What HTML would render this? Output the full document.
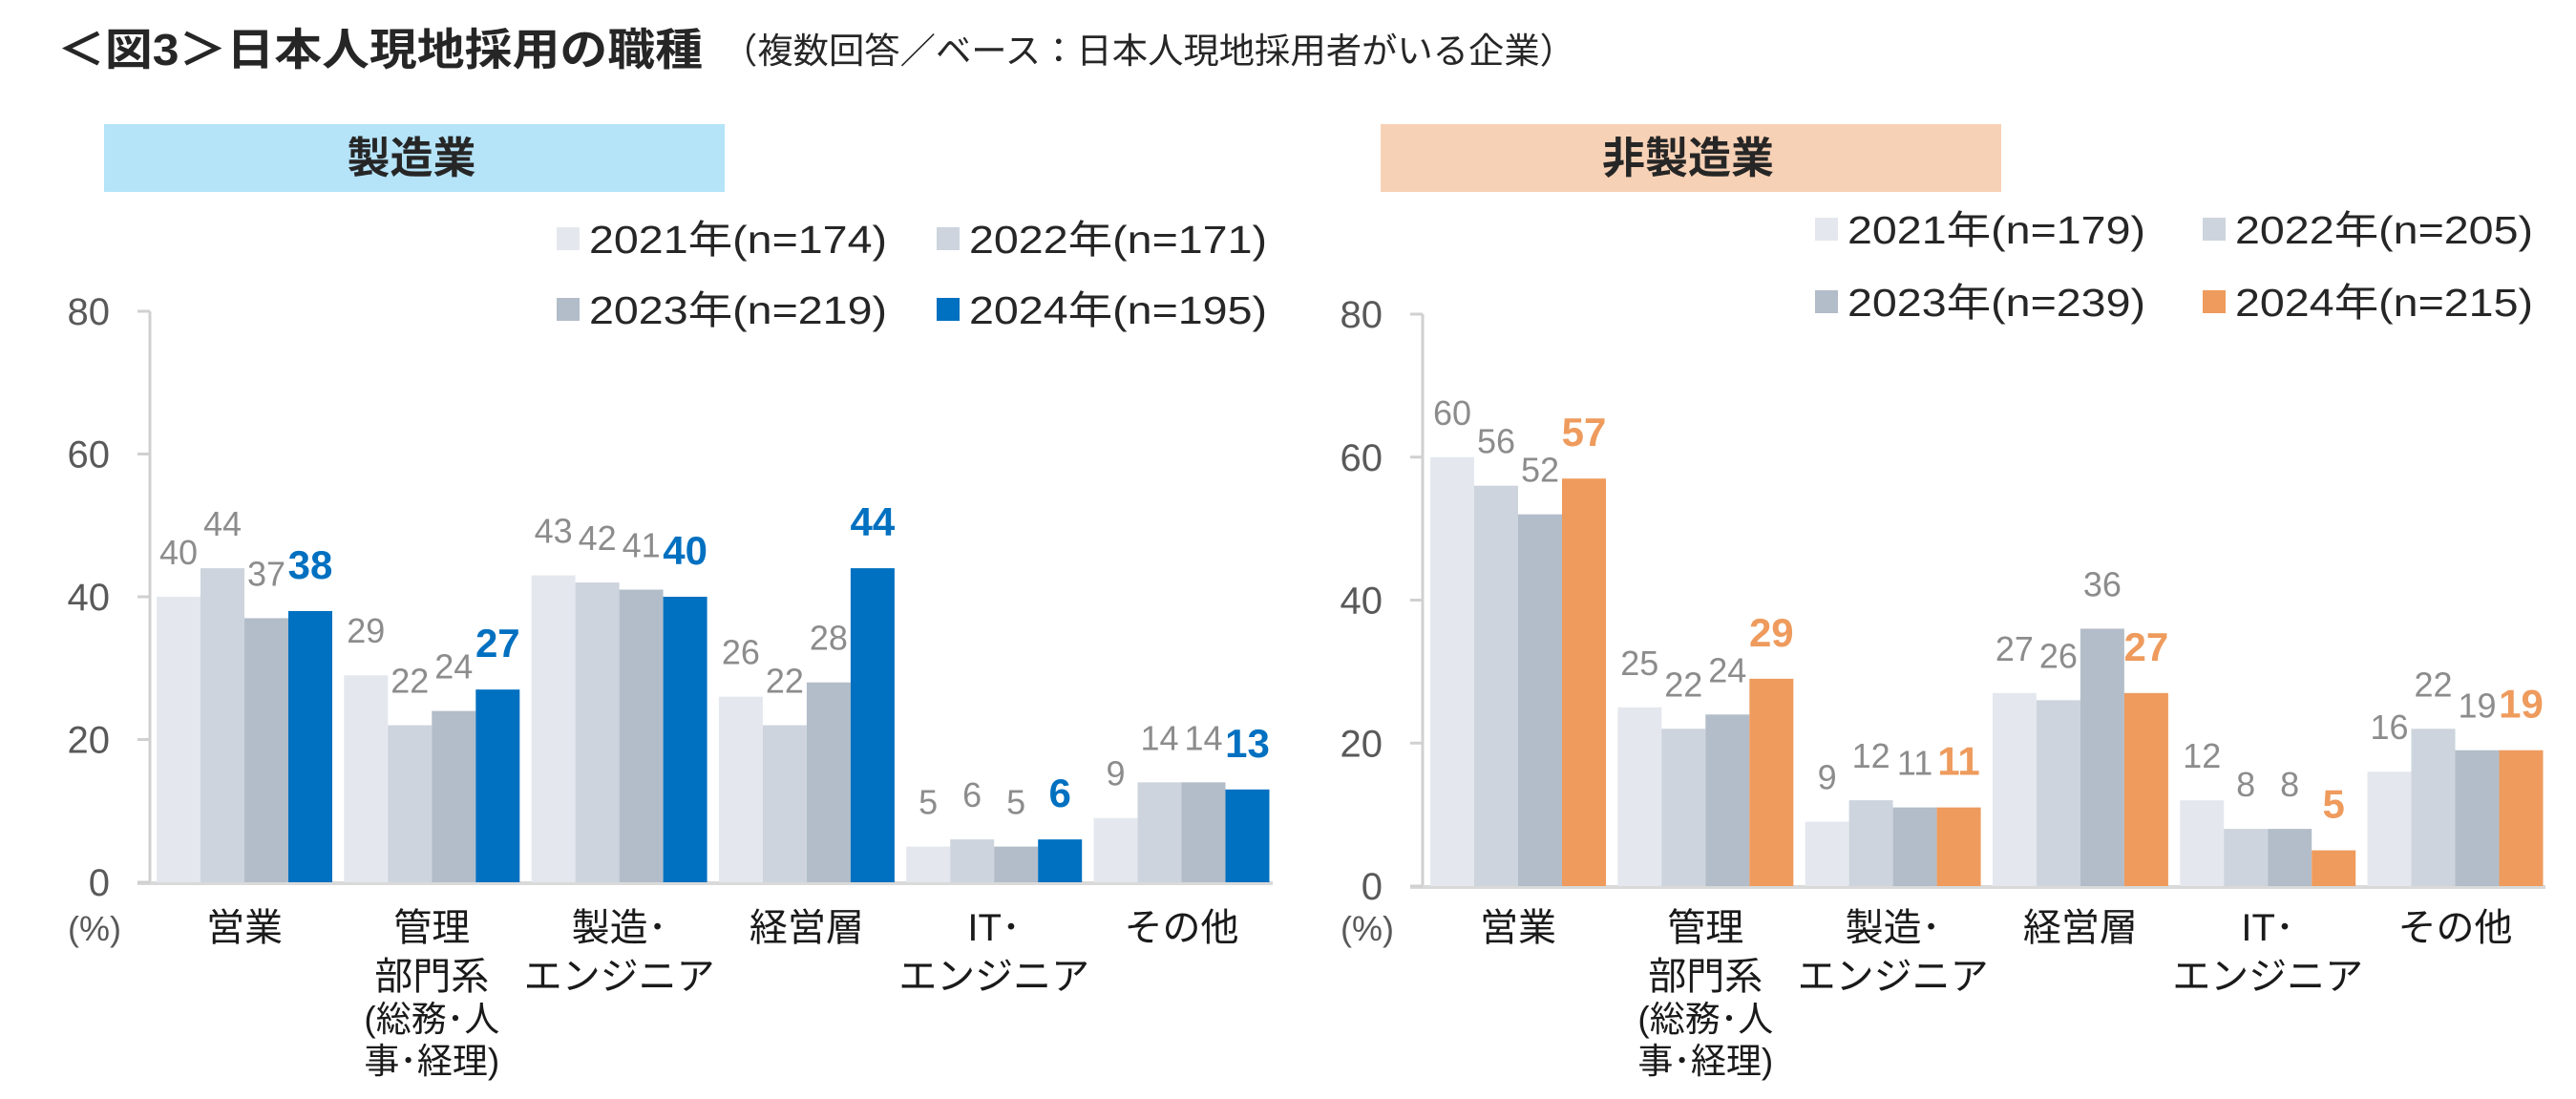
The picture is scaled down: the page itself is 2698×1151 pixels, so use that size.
<!DOCTYPE html>
<html><head><meta charset="utf-8"><style>
html,body{margin:0;padding:0;background:#fff;}
svg{display:block;}
text{font-family:"Liberation Sans","Noto Sans CJK JP",sans-serif;}
</style></head><body>
<svg id="root" width="2698" height="1151" viewBox="0 0 2698 1151" xmlns="http://www.w3.org/2000/svg">
<text x="60" y="68" font-size="46" font-weight="bold" fill="#262626" textLength="676" lengthAdjust="spacingAndGlyphs">＜図3＞日本人現地採用の職種</text>
<text x="756" y="66" font-size="37" fill="#262626" textLength="894" lengthAdjust="spacingAndGlyphs">（複数回答／ベース：日本人現地採用者がいる企業）</text>
<g id="charts"></g>
</svg>
<script>
const categories = ["営業", "管理|部門系|(総務･人|事･経理)", "製造･|エンジニア", "経営層", "IT･|エンジニア", "その他"];
const yTicks = [0, 20, 40, 60, 80];
const mfgYears = ["2021年(n=174)", "2022年(n=171)", "2023年(n=219)", "2024年(n=195)"];
const mfg2021 = [40, 29, 43, 26, 5, 9];
const mfg2022 = [44, 22, 42, 22, 6, 14];
const mfg2023 = [37, 24, 41, 28, 5, 14];
const mfg2024 = [38, 27, 40, 44, 6, 13];
const nonYears = ["2021年(n=179)", "2022年(n=205)", "2023年(n=239)", "2024年(n=215)"];
const non2021 = [60, 25, 9, 27, 12, 16];
const non2022 = [56, 22, 12, 26, 8, 22];
const non2023 = [52, 24, 11, 36, 8, 19];
const non2024 = [57, 29, 11, 27, 5, 19];

const NS = "http://www.w3.org/2000/svg";
const root = document.getElementById("charts");
function mk(tag, attrs, parent) {
  const e = document.createElementNS(NS, tag);
  for (const k in attrs) e.setAttribute(k, attrs[k]);
  (parent || root).appendChild(e);
  return e;
}

function drawChart(cfg) {
  const g = mk("g", {});
  
  
  const yMax = 80;
  const yScale = v => cfg.y0 - (v / yMax) * (cfg.y0 - cfg.y80);
  const barW = 46, pitch = 196.3;
  const xBar = (ci, si) => cfg.barStart + ci * pitch + si * barW;

  const hb = mk("rect", {x: cfg.hx, y: 130, width: cfg.hw, height: 71, fill: cfg.hcolor}, g);
  
  
  const ht = mk("text", {x: cfg.hx + cfg.hw / 2 - 3, y: 181, "font-size": 45, "font-weight": "bold", fill: "#262626", "text-anchor": "middle"}, g);
  ht.textContent = cfg.title;
  
  

  const ax = mk("line", {x1: cfg.axisX, y1: cfg.y80, x2: cfg.axisX, y2: cfg.y0, stroke: "#d0d0d0", "stroke-width": 3}, g);
  
  
  const bx = mk("line", {x1: cfg.axisX - 13, y1: cfg.y0 + 1, x2: cfg.axisEnd, y2: cfg.y0 + 1, stroke: "#d9d9d9", "stroke-width": 4}, g);
  
  
  yTicks.forEach(t => {
    const y = yScale(t);
    const tk = mk("line", {x1: cfg.axisX - 13, y1: y, x2: cfg.axisX, y2: y, stroke: "#d0d0d0", "stroke-width": 3}, g);
    
    
    const tl = mk("text", {x: cfg.axisX - 42, y: y + 14, "font-size": 40, fill: "#595959", "text-anchor": "end"}, g);
    tl.textContent = t;
    
    
  });
  const pc = mk("text", {x: cfg.axisX - 58, y: 985, "font-size": 36, fill: "#595959", "text-anchor": "middle"}, g);
  pc.textContent = "(%)";
  
  

  cfg.series.forEach((vals, si) => {
    vals.forEach((v, ci) => {
      const x = xBar(ci, si), y = yScale(v);
      const r = mk("rect", {x: x, y: y, width: barW, height: cfg.y0 - y, fill: cfg.colors[si]}, g);
      
      
      const last = si === 3;
      const lb = mk("text", {x: x + barW / 2, y: y - 34, "font-size": last ? 42 : 36, "font-weight": last ? "bold" : "normal", fill: last ? cfg.colors[3] : "#8c8c8c", "text-anchor": "middle"}, g);
      lb.textContent = v;
      
      
    });
  });

  categories.forEach((c, ci) => {
    const cx = xBar(ci, 0) + 2 * barW;
    c.split("|").forEach((line, li) => {
      const ys = [985, 1036, 1080, 1124];
      const t = mk("text", {x: cx, y: ys[li], "font-size": li >= 2 ? 37 : 40, fill: "#1a1a1a", "text-anchor": "middle"}, g);
      t.textContent = line;
      
      
    });
  });

  cfg.years.forEach((yr, si) => {
    const col = si % 2, row = Math.floor(si / 2);
    const sx = cfg.legX[col], cy = cfg.legY[row];
    const sq = mk("rect", {x: sx, y: cy - 12, width: 24, height: 24, fill: cfg.colors[si]}, g);
    
    
    const lt = mk("text", {x: sx + 34, y: cy + 15, "font-size": 41, fill: "#262626", textLength: 312, lengthAdjust: "spacingAndGlyphs"}, g);
    lt.textContent = yr;
    
    
  });
}

drawChart({
  name: "manufacturing-chart", title: "製造業", hx: 109, hw: 650, hcolor: "#b5e3f8",
  axisX: 157, axisEnd: 1333, y80: 326, y0: 924, barStart: 164,
  colors: ["#e4e8ee", "#cdd4dd", "#b2bdc9", "#0070c0"],
  series: [mfg2021, mfg2022, mfg2023, mfg2024], years: mfgYears,
  legX: [583, 981], legY: [250, 324]
});
drawChart({
  name: "non-manufacturing-chart", title: "非製造業", hx: 1446, hw: 650, hcolor: "#f7d1b5",
  axisX: 1490, axisEnd: 2666, y80: 329, y0: 928, barStart: 1498,
  colors: ["#e4e8ee", "#cdd4dd", "#b2bdc9", "#ee9b5d"],
  series: [non2021, non2022, non2023, non2024], years: nonYears,
  legX: [1901, 2307], legY: [240, 316]
});
</script>
</body></html>
